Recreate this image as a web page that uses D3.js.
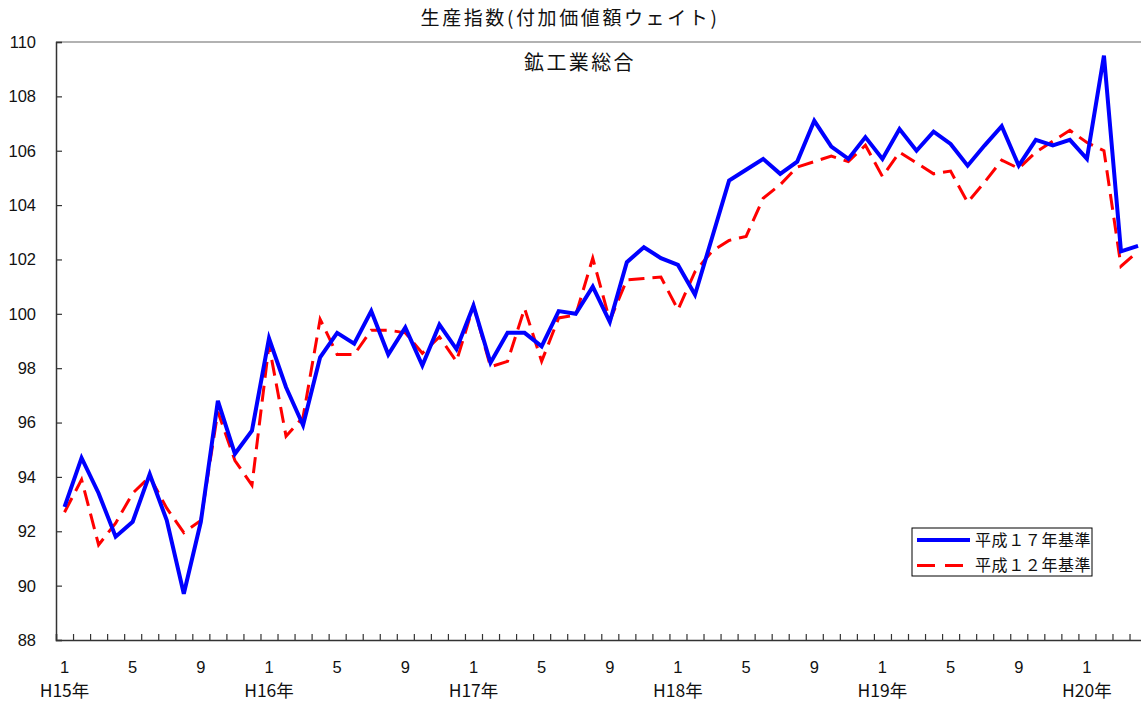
<!DOCTYPE html>
<html>
<head>
<meta charset="utf-8">
<script src="https://cdn.jsdelivr.net/npm/d3@7"></script>
<style>
  body { margin: 0; background: #fff; }
  svg { display: block; }
  text { font-family: "Liberation Sans", Arial, sans-serif; fill: #111; }
  .jp { font-family: "Noto Sans CJK JP", "Noto Sans", sans-serif; }
</style>
</head>
<body>
<svg id="chart" width="1141" height="703"></svg>
<script>
const svg = d3.select('#chart');

// months H15/1 .. H20/4
const years = ['H15年', 'H16年', 'H17年', 'H18年', 'H19年', 'H20年'];
const monthLabels = [1, 5, 9];

const base17 = [
  92.9, 94.7, 93.4, 91.8, 92.35, 94.1, 92.4, 89.7, 92.35, 96.8, 94.85, 95.7,
  99.1, 97.3, 95.9, 98.4, 99.3, 98.9, 100.1, 98.5, 99.5, 98.1, 99.6, 98.7,
  100.3, 98.2, 99.3, 99.3, 98.8, 100.1, 100.0, 101.0, 99.7, 101.9, 102.45, 102.05,
  101.8, 100.7, 102.8, 104.9, 105.3, 105.7, 105.15, 105.6, 107.1, 106.15, 105.7, 106.5,
  105.7, 106.8, 106.0, 106.7, 106.25, 105.45, 106.2, 106.9, 105.45, 106.4, 106.2, 106.4,
  105.7, 109.5, 102.3, 102.5
];
const base12 = [
  92.7, 93.9, 91.5, 92.3, 93.4, 94.0, 92.85, 91.95, 92.4, 96.4, 94.6, 93.7,
  98.85, 95.5, 96.2, 99.8, 98.5, 98.5, 99.4, 99.4, 99.3, 98.55, 99.15, 98.25,
  100.3, 98.05, 98.25, 100.2, 98.25, 99.85, 99.95, 102.05, 99.75, 101.25, 101.3, 101.35,
  100.15, 101.55, 102.3, 102.7, 102.85, 104.25, 104.75, 105.4, 105.6, 105.8, 105.6, 106.2,
  105.05, 105.95, 105.55, 105.15, 105.25, 104.1, 104.85, 105.65, 105.35, 105.95, 106.35, 106.75,
  106.3, 106.0, 101.75, 102.3
];
const series = [
  { name: '平成１７年基準', values: base17, color: '#0000ff', width: 4, dash: null },
  { name: '平成１２年基準', values: base12, color: '#ff0000', width: 3, dash: '16,8' }
];

const plotLeft = 56, plotTop = 42, plotBottom = 640, step = 17.04;
const nBands = 65;

const x = d3.scaleLinear().domain([0, nBands]).range([plotLeft, plotLeft + nBands * step]);
const y = d3.scaleLinear().domain([88, 110]).range([plotBottom, plotTop]);

// top border
svg.append('line')
  .attr('x1', plotLeft).attr('x2', 1141).attr('y1', plotTop).attr('y2', plotTop)
  .attr('stroke', '#999').attr('stroke-width', 1.5);

// y axis
const yAxis = svg.append('g').attr('transform', `translate(${plotLeft},0)`)
  .call(d3.axisRight(y).tickValues(d3.range(88, 111, 2)).tickSize(6).tickFormat(''));
yAxis.select('.domain').attr('stroke', '#333').attr('stroke-width', 1.5);
yAxis.selectAll('.tick line').attr('stroke', '#333').attr('stroke-width', 1.2);
svg.selectAll('.ylab')
  .data(d3.range(88, 111, 2))
  .enter().append('text')
  .attr('class', 'ylab')
  .attr('x', 36).attr('y', d => y(d))
  .attr('dy', '0.36em')
  .attr('text-anchor', 'end')
  .attr('font-size', 16.5)
  .text(d => d);

// x axis
const xAxis = svg.append('g').attr('transform', `translate(0,${plotBottom})`)
  .call(d3.axisTop(x).tickValues(d3.range(0, nBands + 1)).tickSize(6).tickFormat(''));
xAxis.select('.domain').attr('stroke', '#333').attr('stroke-width', 1.5);
xAxis.selectAll('.tick line').attr('stroke', '#333').attr('stroke-width', 1.2);

const monthIdx = d3.range(base17.length).filter(i => monthLabels.includes(i % 12 + 1));
svg.selectAll('.mlab')
  .data(monthIdx)
  .enter().append('text')
  .attr('class', 'mlab')
  .attr('x', i => x(i + 0.5)).attr('y', 673)
  .attr('text-anchor', 'middle')
  .attr('font-size', 16.5)
  .text(i => i % 12 + 1);

svg.selectAll('.yrlab')
  .data(years)
  .enter().append('text')
  .attr('class', 'yrlab jp')
  .attr('x', (d, i) => x(i * 12 + 0.5)).attr('y', 697)
  .attr('text-anchor', 'middle')
  .attr('font-size', 17.5)
  .text(d => d);

// lines
const line = d3.line()
  .x((d, i) => x(i + 0.5))
  .y(d => y(d));

svg.selectAll('.series')
  .data(series.slice().reverse())
  .enter().append('path')
  .attr('class', 'series')
  .attr('d', d => line(d.values))
  .attr('fill', 'none')
  .attr('stroke', d => d.color)
  .attr('stroke-width', d => d.width)
  .attr('stroke-dasharray', d => d.dash)
  .attr('stroke-linejoin', 'miter');

// titles
svg.append('text')
  .attr('class', 'jp')
  .attr('x', 570).attr('y', 25)
  .attr('text-anchor', 'middle')
  .attr('font-size', 19)
  .attr('letter-spacing', 2.6)
  .text('生産指数(付加価値額ウェイト)');

svg.append('text')
  .attr('class', 'jp')
  .attr('x', 580).attr('y', 70)
  .attr('text-anchor', 'middle')
  .attr('font-size', 20)
  .attr('letter-spacing', 2.4)
  .text('鉱工業総合');

// legend
const lg = svg.append('g').attr('transform', 'translate(912,528)');
lg.append('rect')
  .attr('width', 180).attr('height', 48)
  .attr('fill', '#fff').attr('stroke', '#000').attr('stroke-width', 1);
series.forEach((s, i) => {
  const ly = 12 + i * 25.5;
  lg.append('line')
    .attr('x1', 5).attr('x2', 58).attr('y1', ly).attr('y2', ly)
    .attr('stroke', s.color).attr('stroke-width', s.width)
    .attr('stroke-dasharray', s.dash ? '18,10' : null);
  lg.append('text')
    .attr('class', 'jp')
    .attr('x', 63).attr('y', ly)
    .attr('dy', '0.36em')
    .attr('font-size', 16)
    .attr('letter-spacing', 0.6)
    .text(s.name);
});
</script>
</body>
</html>
